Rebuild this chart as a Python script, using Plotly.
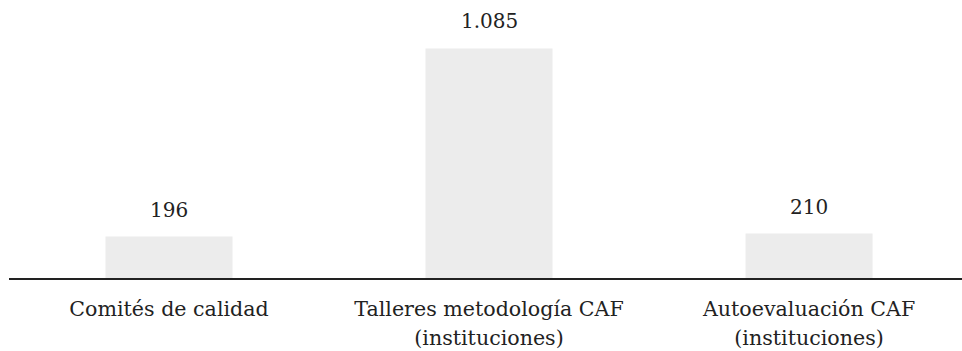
import plotly.graph_objects as go

categories = ["Comités de calidad", "Talleres metodología CAF<br>(instituciones)", "Autoevaluación CAF<br>(instituciones)"]
values = [196, 1085, 210]

FONT = "DejaVu Serif"
TEXT = "#222222"
LABEL_SIZE = 20.6

fig = go.Figure(
    go.Bar(
        x=list(range(len(categories))),
        y=values,
        width=0.397,
        marker=dict(color="#ececec", line=dict(width=0)),
        hoverinfo="skip",
    )
)

# value labels above each bar
for i, v in enumerate(values):
    fig.add_annotation(
        x=i, y=v, text=f"{v:,}".replace(",", "."),
        showarrow=False, yanchor="bottom", yshift=13,
        font=dict(family=FONT, size=20, color=TEXT),
    )

# tick labels: glyphs at LABEL_SIZE, line pitch from the larger tick font
tick_text = [
    "<br>".join(f'<span style="font-size:{LABEL_SIZE}px">{part}</span>' for part in c.split("<br>"))
    for c in categories
]

fig.update_layout(
    width=962, height=351,
    margin=dict(l=9, r=0, t=0, b=73),
    paper_bgcolor="white", plot_bgcolor="white",
    showlegend=False,
    separators=",.",
    font=dict(family=FONT, size=20, color=TEXT),
    xaxis=dict(
        range=[-0.5, 2.478],
        tickmode="array",
        tickvals=list(range(len(categories))),
        ticktext=tick_text,
        tickfont=dict(family=FONT, size=22.5, color=TEXT),
        showline=True, linecolor="#222222", linewidth=2,
        ticks="outside", ticklen=9, tickcolor="rgba(0,0,0,0)",
        showgrid=False, zeroline=False,
        automargin=False,
        fixedrange=True,
    ),
    yaxis=dict(
        range=[0, 1314],
        visible=False,
        showgrid=False, zeroline=False,
        automargin=False,
        fixedrange=True,
    ),
)

fig.write_html("out.html")
